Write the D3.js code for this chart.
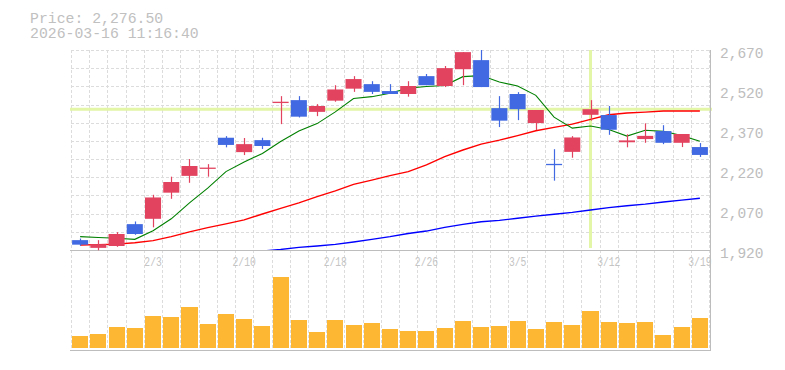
<!DOCTYPE html>
<html><head><meta charset="utf-8">
<script src="https://cdn.jsdelivr.net/npm/d3@7"></script>
<style>
html,body{margin:0;padding:0;background:#fff;}
svg{display:block;}
text{font-family:"Liberation Mono","DejaVu Sans Mono",monospace;}
</style></head>
<body>
<svg id="chart" width="785" height="370"></svg>
<script>
const dates = ['1/28','1/29','1/30','2/2','2/3','2/4','2/5','2/6','2/9','2/10','2/12','2/13','2/16','2/17','2/18','2/19','2/20','2/24','2/25','2/26','2/27','3/2','3/3','3/4','3/5','3/6','3/9','3/10','3/11','3/12','3/13','3/16','3/17','3/18','3/19'];
const openP  = [1957,1928,1935,2017,2037,2135,2198,2228,2341,2287,2332,2474,2482,2438,2480,2525,2542,2516,2505,2572,2535,2598,2632,2452,2505,2396,2243,2288,2427,2426,2324,2336,2366,2322,2306];
const highP  = [1963,1957,1987,2027,2127,2195,2261,2242,2347,2340,2341,2497,2497,2467,2538,2572,2553,2542,2553,2580,2610,2662,2670,2497,2512,2445,2298,2347,2482,2460,2354,2395,2388,2355,2321];
const lowP   = [1936,1919,1932,1977,2005,2112,2172,2195,2305,2276,2299,2392,2417,2422,2476,2513,2505,2505,2495,2538,2531,2538,2531,2381,2407,2370,2180,2266,2405,2352,2305,2322,2317,2306,2269];
const closeP = [1940,1942,1980,1980,2117,2175,2235,2229,2314,2317,2310,2476,2420,2460,2522,2561,2513,2505,2535,2538,2602,2662,2531,2405,2448,2445,2242,2342,2448,2371,2331,2348,2322,2355,2276.5];
const volume = [120,140,210,200,320,310,410,240,340,290,220,710,280,160,280,230,250,190,170,170,200,270,210,220,270,190,260,230,370,260,250,260,130,210,300];
const ma5  = [1970,1967,1964,1960,1992,2037,2097,2152,2214,2250,2282,2327,2366,2394,2438,2488,2495,2508,2527,2533,2537,2570,2574,2550,2535,2500,2418,2377,2385,2372,2347,2369,2365,2349,2328];
const ma25 = [1939,1940,1942,1947,1955,1970,1988,2004,2018,2033,2055,2076,2097,2120,2142,2166,2182,2199,2214,2239,2270,2295,2317,2332,2349,2367,2380,2392,2410,2427,2434,2437,2441,2441,2441];
const ma75 = [null,null,null,null,null,null,null,null,null,null,1916,1922,1930,1935,1941,1950,1960,1970,1982,1991,2005,2016,2026,2031,2039,2047,2054,2061,2070,2079,2086,2092,2100,2107,2114];
const priceTicks = [1920,2070,2220,2370,2520,2670];
const dateTicks = ['2/3','2/10','2/18','2/26','3/5','3/12','3/19'];
const headerLines = ['Price: 2,276.50','2026-03-16 11:16:40'];
const crossDate = '3/11';
const crossPrice = 2447.6;

const svg = d3.select('#chart');
const L = 71, R = 709, PT = 50, PB = 250, VT = 268, VB = 348, VLine = 350;

const x = d3.scaleBand().domain(dates).range([L, R]).paddingInner(0.12).paddingOuter(0.06);
const step = x.step();
const cx = d => x(d) + x.bandwidth()/2;
const y = d3.scaleLinear().domain([1920, 2670]).range([PB, PT]);
const yv = d3.scaleLinear().domain([0, 800]).range([VB, VT]);

const data = dates.map((d,i)=>({d, o:openP[i], h:highP[i], l:lowP[i], c:closeP[i], v:volume[i]}));

// header
svg.append('g').selectAll('text').data(headerLines).join('text')
  .attr('x', 30).attr('y', (d,i)=> 23 + i*14.5)
  .attr('font-size', 14.8).attr('fill', '#c0c0c0').text(d=>d);

// grid
const grid = svg.append('g').attr('stroke', '#dcdcdc').attr('stroke-dasharray', '3,2').attr('shape-rendering','crispEdges');
const vxs = d3.range(dates.length+1).map(i => x(dates[0]) - step*0.06 + i*step);
grid.selectAll('line.v').data(vxs).join('line').attr('class','v')
  .attr('x1', d=>Math.round(d)+0.5).attr('x2', d=>Math.round(d)+0.5).attr('y1', PT).attr('y2', VLine);
const hys = d3.range(12).map(k => PT + k*(PB-PT)/11);
grid.selectAll('line.h').data(hys).join('line').attr('class','h')
  .attr('x1', L).attr('x2', R).attr('y1', d=>Math.round(d)+0.5).attr('y2', d=>Math.round(d)+0.5);

// crosshair
svg.append('line').attr('x1', L-1).attr('x2', R+3).attr('y1', y(crossPrice)).attr('y2', y(crossPrice))
  .attr('stroke', '#e3f5a6').attr('stroke-width', 3);
svg.append('line').attr('x1', cx(crossDate)).attr('x2', cx(crossDate)).attr('y1', PT).attr('y2', PB-2)
  .attr('stroke', '#e3f5a6').attr('stroke-width', 3);

// volume
svg.append('g').selectAll('rect').data(data).join('rect')
  .attr('x', d=>x(d.d)).attr('width', x.bandwidth())
  .attr('y', d=>yv(d.v)).attr('height', d=>VB - yv(d.v))
  .attr('fill', '#fdb733').attr('shape-rendering','crispEdges');

// axes
const xAxis = d3.axisBottom(x).tickValues(dateTicks).tickSize(0).tickSizeOuter(0);
const gx = svg.append('g').attr('transform', `translate(0,${PB})`).call(xAxis);
gx.select('.domain').attr('stroke', '#bdbdbd').attr('d', `M${L-1},0.5H${R+1}`);
gx.selectAll('text').attr('y', 16.3).attr('dy', 0).attr('font-size', 12.5).attr('fill', '#c4c4c4')
  .attr('font-family','"Liberation Mono",monospace')
  .attr('textLength', d=>d.length*5.8).attr('lengthAdjust','spacingAndGlyphs');

const yAxis = d3.axisRight(y).tickValues(priceTicks).tickSize(0).tickFormat(d3.format(','));
const gy = svg.append('g').attr('transform', `translate(${R+1},0)`).call(yAxis);
gy.select('.domain').attr('stroke', '#bdbdbd').attr('d', `M0.5,${PT}V${VLine+1}`);
gy.selectAll('text').attr('x', 10).attr('dy', 7.3).attr('font-size', 14.5).attr('fill', '#bdbdbd')
  .attr('font-family','"Liberation Mono",monospace');

svg.append('line').attr('x1', L-1).attr('x2', R+2).attr('y1', VLine+0.5).attr('y2', VLine+0.5).attr('stroke', '#bdbdbd');

// MA lines
const clip = svg.append('clipPath').attr('id','pc').append('rect').attr('x', L).attr('y', PT-2).attr('width', R-L).attr('height', PB-PT+2);
const line = d3.line().defined(d=>d.v!=null).x(d=>cx(d.d)).y(d=>y(d.v));
const mg = svg.append('g').attr('clip-path','url(#pc)').attr('fill','none');
[[ma75,'#0000ff',1.4],[ma25,'#ff0000',1.4],[ma5,'#008000',1.1]].forEach(([arr,col,w])=>{
  mg.append('path').datum(dates.map((d,i)=>({d, v:arr[i]})))
    .attr('d', line).attr('stroke', col).attr('stroke-width', w);
});

// candles
const up = '#e2435f', dn = '#4169e1';
const cg = svg.append('g').selectAll('g').data(data).join('g');
cg.append('line').attr('x1', d=>Math.round(cx(d.d))+0.5).attr('x2', d=>Math.round(cx(d.d))+0.5)
  .attr('y1', d=>y(d.h)).attr('y2', d=>y(d.l))
  .attr('stroke', d=>d.c>=d.o?up:dn).attr('stroke-width', 1.2);
cg.append('rect').attr('x', d=>x(d.d)).attr('width', x.bandwidth())
  .attr('y', d=>y(Math.max(d.o,d.c)))
  .attr('height', d=>Math.max(1.3, Math.abs(y(d.o)-y(d.c))))
  .attr('fill', d=>d.c>=d.o?up:dn);
</script>
</body></html>
